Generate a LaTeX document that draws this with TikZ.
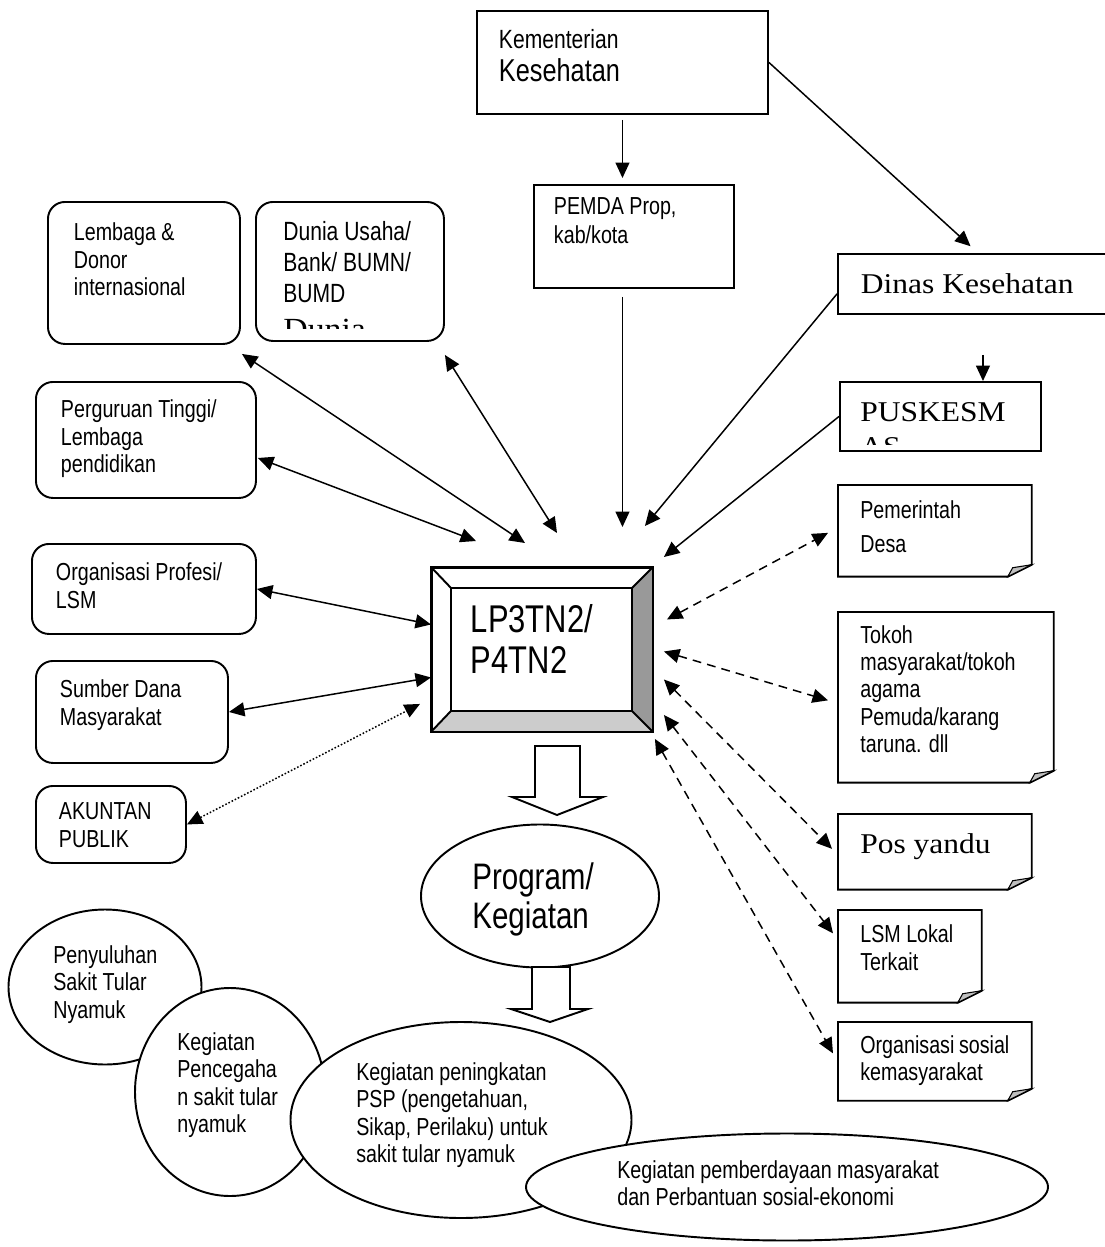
\documentclass[tikz,border=0pt]{standalone}
\usepackage{fontspec}
\setmainfont{Liberation Serif}
\newfontfamily\narrowsans[FakeStretch=0.8]{Liberation Sans}
\newfontfamily\widerm[FakeStretch=1.1]{Liberation Serif}
\usetikzlibrary{arrows.meta,shapes.geometric}

\newlength{\pxu}
\setlength{\pxu}{0.02cm}

\newcommand{\smalltxt}{\narrowsans\fontsize{14}{15.6}\selectfont}
\newcommand{\bigtxt}{\widerm\fontsize{16.3}{19.8}\selectfont}

% top aligned text of a box, #1 x #2 px
\newcommand{\boxtxt}[3]{\parbox[t][\dimexpr#2\pxu-\pgfkeysvalueof{/pgf/inner ysep}-\pgfkeysvalueof{/pgf/inner ysep}\relax][t]{\dimexpr#1\pxu-\pgfkeysvalueof{/pgf/inner xsep}-\pgfkeysvalueof{/pgf/inner xsep}\relax}{\raggedright #3}}
\newcommand{\duniatxt}{\parbox[t]{150\pxu}{\raggedright Dunia~Usaha/\\Bank/~BUMN/\\BUMD\par\widerm\fontsize{17.5}{21}\selectfont Dunia\par}}

% note frame with folded corner
\newcommand{\dogear}[1]{%
  \draw[boxline] (#1.north west) -- (#1.north east) -- ([yshift=12\pxu]#1.south east)
    -- ([xshift=-24\pxu]#1.south east) -- (#1.south west) -- cycle;
  \filldraw[line width=0.6pt, fill=black!25] ([yshift=12\pxu]#1.south east)
    -- ([xshift=-24\pxu]#1.south east) .. controls ([shift={(-21,-4)}]#1.south east) .. ([shift={(-19,-9)}]#1.south east) -- cycle;}

\begin{document}
\begin{tikzpicture}[x=0.02cm, y=-0.02cm, >={Triangle[length=0.31cm,width=0.28cm]},
  boxline/.style={line width=1.1pt},
  sqbox/.style={draw, boxline, anchor=north west, font=\smalltxt},
  rbox/.style={sqbox, rounded corners=0.34cm},
  notebox/.style={anchor=north west, font=\smalltxt},
  bub/.style={ellipse, draw, boxline, fill=white, inner sep=0},
  bubtxt/.style={anchor=north west, inner sep=0, align=left, font=\smalltxt},
  one/.style={->, line width=0.85pt},
  link/.style={<->, line width=0.85pt},
  dlink/.style={link, dash pattern=on 5pt off 3.5pt},
  olink/.style={link, dash pattern=on 0.9pt off 1.1pt},
  fat/.style={draw, boxline, fill=white}]
\useasboundingbox (0,0) rectangle (1105,1247);

% ministry line
\node[sqbox, inner xsep=22\pxu, inner ysep=18\pxu] (kemenkes) at (476,10)
  {\boxtxt{291}{103}{\fontsize{15}{17}\selectfont Kementerian\par\fontsize{18}{19.3}\selectfont Kesehatan}};
\node[sqbox, inner xsep=20\pxu, inner ysep=13\pxu] (pemda) at (533,184)
  {\boxtxt{200}{103}{\fontsize{14}{16.4}\selectfont PEMDA Prop,\\kab/kota}};
\node[sqbox, font=\bigtxt, inner xsep=23\pxu, inner ysep=20\pxu] (dinkes) at (837,253)
  {\boxtxt{280}{59}{Dinas Kesehatan}};
\node[sqbox, minimum width=201\pxu, minimum height=69\pxu, inner sep=0] (pusk) at (839,381) {};
\begin{scope}
  \clip (pusk.north west) rectangle ([yshift=7\pxu]pusk.south east);
  \node[anchor=north west, inner sep=0, font=\bigtxt, align=left] (puskT)
    at ([shift={(21,21)}]pusk.north west) {PUSKESM\\AS};
\end{scope}

% partners on the left
\node[rbox, inner xsep=26\pxu, inner ysep=21\pxu] (lembaga) at (47,201)
  {\boxtxt{192}{142}{Lembaga \&\\Donor\\internasional}};
\node[rbox, minimum width=188\pxu, minimum height=139\pxu, inner sep=0] (dunia) at (255,201) {};
\begin{scope}
  \clip (dunia.north west) rectangle ([yshift=13\pxu]dunia.south east);
  \node[anchor=north west, inner sep=0, font=\narrowsans\fontsize{15}{17.6}\selectfont] (duniaT)
    at ([shift={(28,20)}]dunia.north west) {\duniatxt};
\end{scope}
\node[rbox, inner xsep=25\pxu, inner ysep=18\pxu] (pt) at (35,381)
  {\boxtxt{220}{116}{Perguruan Tinggi/\\Lembaga\\pendidikan}};
\node[rbox, inner xsep=24\pxu, inner ysep=19\pxu] (orgprof) at (31,543)
  {\boxtxt{224}{90}{Organisasi Profesi/\\LSM}};
\node[rbox, inner xsep=24\pxu, inner ysep=19\pxu] (sumber) at (35,660)
  {\boxtxt{192}{102}{Sumber Dana\\Masyarakat}};
\node[rbox, inner xsep=23\pxu, inner ysep=17\pxu] (akuntan) at (35,785)
  {\boxtxt{150}{77}{AKUNTAN\\PUBLIK}};

% centre
\node[draw, boxline, fill=white, anchor=north west, inner xsep=39\pxu, inner ysep=37\pxu,
  font=\narrowsans\fontsize{22}{23.2}\selectfont] (lp) at (431,567)
  {\boxtxt{220}{163}{LP3TN2/\\P4TN2}};
\fill[black!20] (lp.south west) -- ([shift={(20,-21)}]lp.south west) -- ([shift={(-21,-21)}]lp.south east) -- (lp.south east) -- cycle;
\fill[black!40] (lp.north east) -- ([shift={(-21,21)}]lp.north east) -- ([shift={(-21,-21)}]lp.south east) -- (lp.south east) -- cycle;
\draw[boxline] ([shift={(20,21)}]lp.north west) rectangle ([shift={(-21,-21)}]lp.south east);
\draw[boxline] (lp.north west) -- ++(20,21) (lp.north east) -- ++(-21,21)
  (lp.south west) -- ++(20,-21) (lp.south east) -- ++(-21,-21);
\draw[boxline] (lp.north west) rectangle (lp.south east);

% community on the right
\node[notebox, inner xsep=22\pxu, inner ysep=15\pxu] (desa) at (838,485)
  {\boxtxt{193}{91}{\fontsize{14}{19.8}\selectfont Pemerintah\\Desa}};
\dogear{desa}
\node[notebox, inner xsep=22\pxu, inner ysep=13\pxu] (tokoh) at (838,612)
  {\boxtxt{215}{170}{Tokoh\\masyarakat/tokoh\\agama\\Pemuda/karang\\taruna. dll}};
\dogear{tokoh}
\node[notebox, font=\bigtxt, inner xsep=22\pxu, inner ysep=19\pxu] (posyandu) at (838,814)
  {\boxtxt{193}{75}{Pos yandu}};
\dogear{posyandu}
\node[notebox, inner xsep=22\pxu, inner ysep=14\pxu] (lsm) at (838,910)
  {\boxtxt{143}{92}{\fontsize{14}{15.9}\selectfont LSM Lokal\\Terkait}};
\dogear{lsm}
\node[notebox, inner xsep=22\pxu, inner ysep=13\pxu] (orgsos) at (838,1022)
  {\boxtxt{193}{78}{Organisasi~sosial\\kemasyarakat}};
\dogear{orgsos}

% top-down
\draw[one, shorten <=5\pxu, shorten >=6\pxu] (kemenkes.south) -- (kemenkes.south |- pemda.north);
\draw[one, shorten <=8\pxu, shorten >=40\pxu] (kemenkes.south |- pemda.south) -- (kemenkes.south |- lp.north);
\draw[one, shorten >=10\pxu] (kemenkes.east) -- (dinkes.north);
\draw[one, shorten <=40\pxu] ([xshift=5\pxu]dinkes.south) -- ([xshift=5\pxu]dinkes.south |- pusk.north);
\draw[one] ([yshift=-10\pxu]dinkes.west) -- ([shift={(-8,-41)}]lp.north east);
\draw[one] (pusk.west) -- ([shift={(11,-10)}]lp.north east);

% two-way links, left
\draw[link] ([shift={(1,9)}]lembaga.south east) -- ([shift={(94,-24)}]lp.north west);
\draw[link] ([yshift=-13\pxu]dunia.south east) -- ([shift={(126,-34)}]lp.north west);
\draw[link] ([shift={(1,18)}]pt.east) -- ([shift={(45,-26)}]lp.north west);
\draw[link] (orgprof.east) -- ([yshift=25\pxu]lp.west);
\draw[link] (sumber.east) -- ([yshift=-28\pxu]lp.west);
\draw[olink] (akuntan.east) -- ([shift={(-11,-28)}]lp.south west);

% two-way links, right
\draw[dlink] ([shift={(14,-30)}]lp.east) -- ([shift={(-10,2)}]desa.west);
\draw[dlink] ([shift={(11,2)}]lp.east) -- ([shift={(-10,3)}]tokoh.west);
\draw[dlink] ([shift={(11,30)}]lp.east) -- ([shift={(-6,-3)}]posyandu.west);
\draw[dlink] ([shift={(11,-17)}]lp.south east) -- ([shift={(-5,-23)}]lsm.west);
\draw[dlink] ([shift={(2,7)}]lp.south east) -- ([shift={(-5,-8)}]orgsos.west);

% programme
\draw[fat] (535,746) -- (580,746) -- (580,797) -- (603,797) -- (557,815) -- (512,797) -- (535,797) -- cycle;
\node[bub, minimum width=238\pxu, minimum height=143\pxu] (prog) at (540,896) {};
\node[bubtxt, font=\narrowsans\fontsize{21}{22.7}\selectfont] (progT) at (472,862) {Program/\\Kegiatan};
\draw[fat] (532,967) -- (570,967) -- (570,1009) -- (588,1009) -- (550,1022) -- (511,1009) -- (532,1009) -- cycle;

% activities
\node[bub, minimum width=193\pxu, minimum height=155\pxu] (peny) at (105,987) {};
\node[bubtxt] (penyT) at (53,945) {Penyuluhan\\Sakit Tular\\Nyamuk};
\node[bub, minimum width=190\pxu, minimum height=208\pxu] (cegah) at (230,1092) {};
\node[bubtxt] (cegahT) at (177,1032) {Kegiatan\\Pencegaha\\n sakit tular\\nyamuk};
\node[bub, minimum width=341\pxu, minimum height=196\pxu] (psp) at (461,1120) {};
\node[bubtxt] (pspT) at (356,1062) {Kegiatan peningkatan\\PSP (pengetahuan,\\Sikap, Perilaku) untuk\\sakit tular nyamuk};
\node[bub, minimum width=522\pxu, minimum height=107\pxu] (daya) at (787,1187) {};
\node[bubtxt] (dayaT) at (617,1160) {Kegiatan pemberdayaan masyarakat\\dan Perbantuan sosial-ekonomi};
\end{tikzpicture}
\end{document}
